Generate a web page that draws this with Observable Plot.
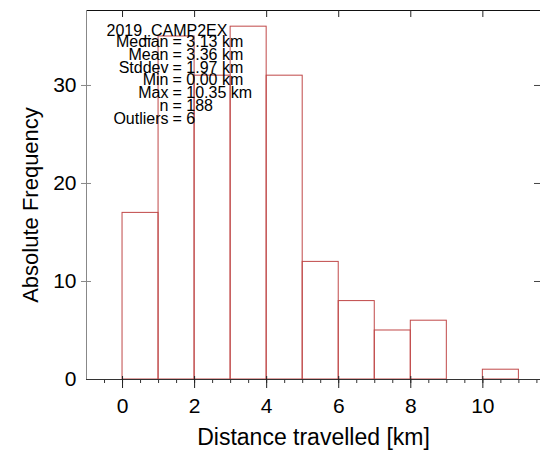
<!DOCTYPE html>
<html>
<head>
<meta charset="utf-8">
<script src="https://cdn.jsdelivr.net/npm/d3@7"></script>
<script src="https://cdn.jsdelivr.net/npm/@observablehq/plot@0.6"></script>
<style>
  html, body { margin: 0; padding: 0; background: #fff; }
  #chart svg { display: block; }
</style>
</head>
<body>
<div id="chart"></div>
<script>
// Histogram bins (km) and absolute frequencies
const binStarts = [0, 1, 2, 3, 4, 5, 6, 7, 8, 9, 10];
const binWidth = 1;
const counts = [17, 35, 31, 36, 31, 12, 8, 5, 6, 0, 1];

// Axis ticks
const xTickLabels = [0, 2, 4, 6, 8, 10];
const yTickLabels = [0, 10, 20, 30];

// Annotation text
const campaign = "2019_CAMP2EX";
const statLabels = ["Median", "Mean", "Stddev", "Min", "Max", "n", "Outliers"];
const statValues = ["3.13 km", "3.36 km", "1.97 km", "0.00 km", "10.35 km", "188", "6"];

const xTitle = "Distance travelled [km]";
const yTitle = "Absolute Frequency";

const bars = binStarts.map((s, i) => ({x1: s, x2: s + binWidth, count: counts[i]}));
const xMin = -1, xMax = 11.6, yMax = 37.65;
const minorTicks = d3.range(-0.5, 11.6, 0.5);

const font = "'Liberation Sans', Arial, Helvetica, sans-serif";
const statSize = 16;

const chart = Plot.plot({
  width: 540,
  height: 452,
  marginLeft: 86,
  marginRight: 0,
  marginTop: 10,
  marginBottom: 73,
  style: {fontFamily: font, fontSize: "21px", color: "#000", background: "#fff"},
  x: {domain: [xMin, xMax], label: null},
  y: {domain: [0, yMax], label: null},
  marks: [
    // histogram outlines
    Plot.rectY(bars, {x1: "x1", x2: "x2", y: "count", fill: "none", stroke: "#c04848", strokeWidth: 1}),
    // frame lines
    Plot.ruleY([0], {stroke: "#333", strokeWidth: 1}),
    Plot.ruleY([yMax], {stroke: "#111", strokeWidth: 1}),
    Plot.ruleX([xMin], {stroke: "#888", strokeWidth: 1}),
    // bottom ticks
    Plot.ruleX(minorTicks, {x: d => d, y1: 0, y2: 0, insetBottom: -4, stroke: "#333"}),
    Plot.ruleX(xTickLabels, {x: d => d, y1: 0, y2: 0, insetTop: -3, insetBottom: -9, stroke: "#222"}),
    // top ticks (inward)
    Plot.ruleX(xTickLabels, {x: d => d, y1: yMax, y2: yMax, insetBottom: -7, stroke: "#222"}),
    // left ticks
    Plot.ruleY(yTickLabels.filter(d => d > 0), {y: d => d, x1: xMin, x2: xMin, insetLeft: -5, insetRight: -5, stroke: "#888"}),
    // right ticks
    Plot.ruleY(yTickLabels.filter(d => d > 0), {y: d => d, x1: xMax, x2: xMax, insetLeft: -6, stroke: "#444"}),
    // tick labels
    Plot.axisX({ticks: xTickLabels, tickSize: 0, tickPadding: 18.5, label: null, fontSize: 21}),
    Plot.axisY({ticks: yTickLabels, tickSize: 0, tickPadding: 10, label: null, fontSize: 21}),
    // axis titles
    Plot.text([xTitle], {text: d => d, frameAnchor: "bottom", textAnchor: "middle", lineAnchor: "middle", dy: 58, fontSize: 23}),
    Plot.text([yTitle], {text: d => d, frameAnchor: "left", textAnchor: "middle", rotate: -90, lineAnchor: "middle", dx: -56, dy: 10, fontSize: 22}),
    // statistics annotation
    Plot.text([campaign], {text: d => d, frameAnchor: "top-left", textAnchor: "start", lineAnchor: "top", dx: 20, dy: 14.3, fontSize: statSize}),
    Plot.text([statLabels.join("\n")], {text: d => d, frameAnchor: "top-left", textAnchor: "end", lineAnchor: "top", lineHeight: 0.794, dx: 82, dy: 27.8, fontSize: statSize}),
    Plot.text([statValues.map(v => "= " + v).join("\n")], {text: d => d, frameAnchor: "top-left", textAnchor: "start", lineAnchor: "top", lineHeight: 0.794, dx: 86, dy: 27.8, fontSize: statSize})
  ]
});
document.getElementById("chart").appendChild(chart);
</script>
</body>
</html>
